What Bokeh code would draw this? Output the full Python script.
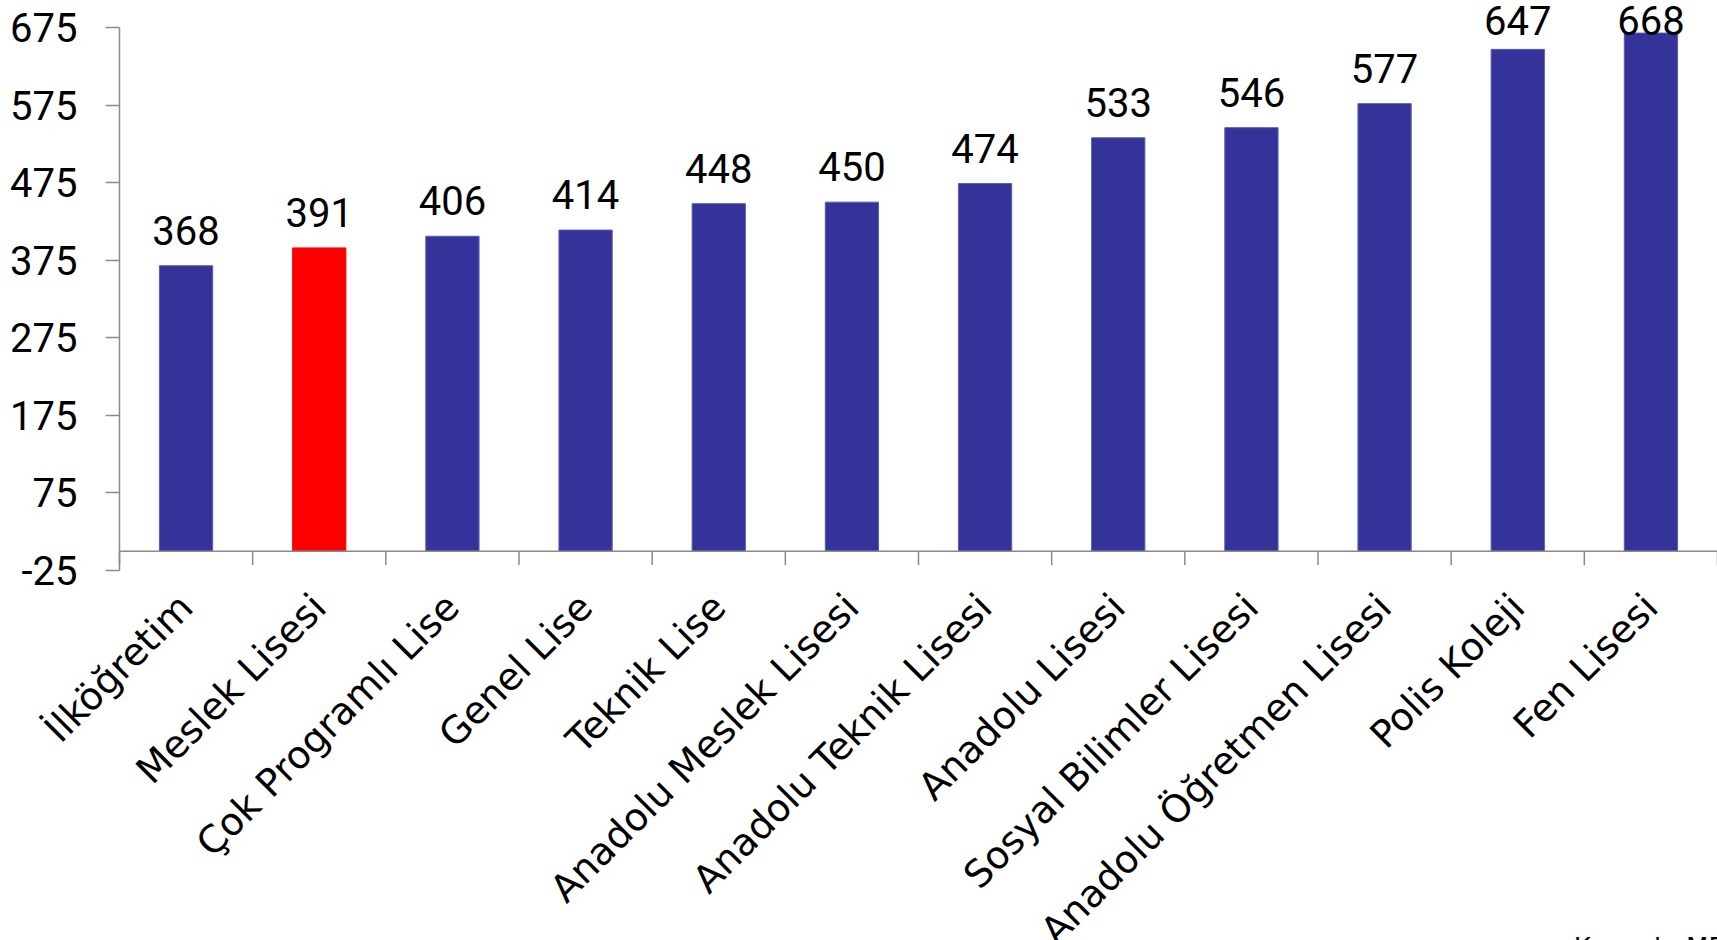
import math
from bokeh.plotting import figure
from bokeh.models import Range1d, FixedTicker, ColumnDataSource, Span
from bokeh.embed import file_html
from bokeh.resources import INLINE
from bokeh.core.properties import value

# ---- data ----
categories = ["İlköğretim", "Meslek Lisesi", "Çok Programlı Lise", "Genel Lise",
              "Teknik Lise", "Anadolu Meslek Lisesi", "Anadolu Teknik Lisesi",
              "Anadolu Lisesi", "Sosyal Bilimler Lisesi", "Anadolu Öğretmen Lisesi",
              "Polis Koleji", "Fen Lisesi"]
scores = [368, 391, 406, 414, 448, 450, 474, 533, 546, 577, 647, 668]
highlight = "Meslek Lisesi"
y_ticks = [-25, 75, 175, 275, 375, 475, 575, 675]
source_note = "Kaynak: MEB"

# ---- styles ----
BLUE = "#333399"
RED = "#FF0000"
AXIS = "#8a8a8a"
NUM_FONT = "Roboto"
CAT_FONT = "DejaVu Sans"
TICK_LEN = 18  # data units (~14 px)

idx = list(range(len(categories)))
colors = [RED if c == highlight else BLUE for c in categories]
edges = ["#FF0000" if c == highlight else "#5c5cb0" for c in categories]
label_y = [min(v + 27, 665) for v in scores]

src = ColumnDataSource(dict(x=idx, top=scores, color=colors, edge=edges,
                            ly=label_y, txt=[str(v) for v in scores]))

# frame covers the whole canvas; both axes are hung at fixed positions inside it
p = figure(width=1717, height=940, output_backend="svg", toolbar_location=None,
           x_range=Range1d(-1.3936, len(categories) - 0.5),
           y_range=Range1d(-502, 710),
           min_border_left=0, min_border_right=0, min_border_top=0,
           min_border_bottom=0)
p.outline_line_color = None
p.xgrid.visible = False
p.ygrid.visible = False
p.background_fill_color = "white"
p.border_fill_color = "white"

p.vbar(x="x", top="top", bottom=0, width=0.4, fill_color="color",
       line_color="edge", line_width=1, source=src)

p.text(x="x", y="ly", text="txt", source=src, text_font=value(NUM_FONT),
       text_font_size="40px", text_align="center", text_baseline="bottom",
       text_color="black")

# category axis line at zero and boundary tick marks
bounds = [i - 0.5 for i in range(len(categories) + 1)]
p.segment(x0=[bounds[0]], y0=[0], x1=[bounds[-1]], y1=[0],
          line_color=AXIS, line_width=1.5)
p.segment(x0=bounds, y0=[0] * len(bounds), x1=bounds, y1=[-TICK_LEN] * len(bounds),
          line_color=AXIS, line_width=1.5)

# source note (mostly cut off at the bottom edge, as in the original)
p.text(x=[len(categories) - 1.58], y=[-492], text=[source_note],
       text_font=value(CAT_FONT), text_font_size="26px", text_align="left",
       text_baseline="top", text_color="black")

# x axis: labels only, hung from the bottom of the value axis
xa = p.xaxis[0]
xa.fixed_location = y_ticks[0]
xa.ticker = FixedTicker(ticks=idx, minor_ticks=[])
xa.major_label_overrides = {i: c for i, c in zip(idx, categories)}
xa.major_label_orientation = math.pi / 4
xa.major_label_text_font = CAT_FONT
xa.major_label_text_font_size = "38px"
xa.major_label_text_color = "black"
xa.major_label_standoff = 30
xa.major_tick_out = 0
xa.major_tick_in = 0
xa.minor_tick_out = 0
xa.minor_tick_in = 0
xa.axis_line_color = None

ya = p.yaxis[0]
ya.fixed_location = bounds[0]
ya.ticker = FixedTicker(ticks=y_ticks, minor_ticks=[])
ya.major_label_overrides = {t: str(t) for t in y_ticks}
ya.bounds = (y_ticks[0], y_ticks[-1])
ya.major_tick_out = 14
ya.major_tick_in = 0
ya.major_tick_line_color = AXIS
ya.major_tick_line_width = 1.5
ya.minor_tick_out = 0
ya.minor_tick_in = 0
ya.axis_line_color = AXIS
ya.axis_line_width = 1.5
ya.major_label_text_font = NUM_FONT
ya.major_label_text_font_size = "40px"
ya.major_label_text_color = "black"
ya.major_label_standoff = 28

open("out.html", "w").write(file_html(p, INLINE))
